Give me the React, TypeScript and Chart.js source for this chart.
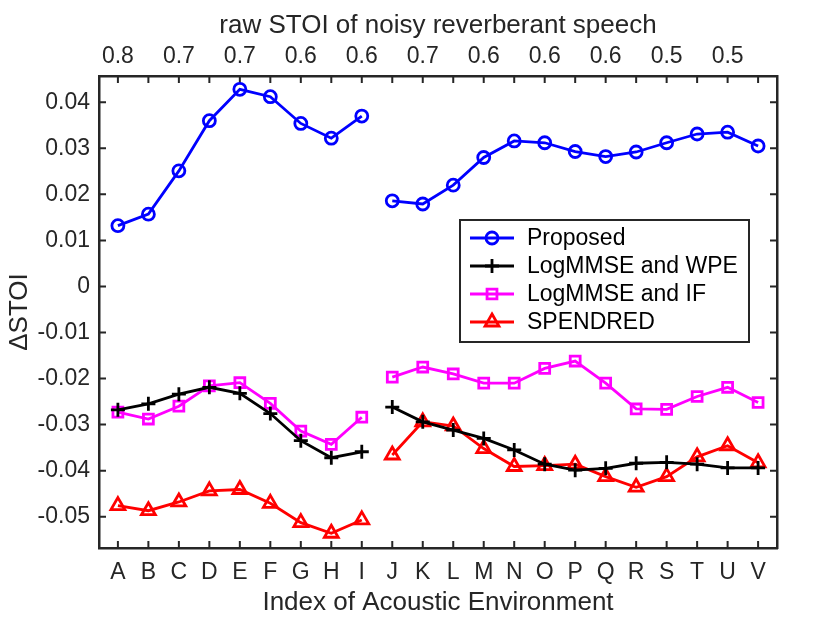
import React, { useEffect, useRef } from "react";
import { Chart, registerables, Plugin } from "chart.js";
import { drawPoint } from "chart.js/helpers";

Chart.register(...registerables);

const categories = ["A", "B", "C", "D", "E", "F", "G", "H", "I", "J", "K", "L", "M", "N", "O", "P", "Q", "R", "S", "T", "U", "V"];
// top axis labels sit on every other category (A, C, E, ...)
const topTickLabels = ["0.8", "0.7", "0.7", "0.6", "0.6", "0.7", "0.6", "0.6", "0.6", "0.5", "0.5"];
const yTickValues = [-0.05, -0.04, -0.03, -0.02, -0.01, 0, 0.01, 0.02, 0.03, 0.04];

const proposed = [0.0132, 0.0157, 0.0251, 0.036, 0.0428, 0.0412, 0.0354, 0.0322, 0.037, 0.0186, 0.0179, 0.022, 0.028, 0.0316, 0.0312, 0.0293, 0.0282, 0.0292, 0.0312, 0.0331, 0.0335, 0.0305];
const logmmseWpe = [-0.0268, -0.0255, -0.0234, -0.0219, -0.0232, -0.0276, -0.0335, -0.0372, -0.0359, -0.0262, -0.0294, -0.0312, -0.033, -0.0355, -0.0386, -0.0399, -0.0395, -0.0384, -0.0382, -0.0386, -0.0394, -0.0394];
const logmmseIf = [-0.0273, -0.0288, -0.026, -0.0216, -0.0209, -0.0254, -0.0314, -0.0343, -0.0284, -0.0197, -0.0175, -0.019, -0.021, -0.021, -0.0178, -0.0162, -0.021, -0.0266, -0.0267, -0.0239, -0.0219, -0.0252];
const spendred = [-0.0476, -0.0487, -0.0468, -0.0444, -0.0441, -0.0471, -0.0513, -0.0536, -0.0507, -0.0366, -0.0294, -0.0303, -0.0352, -0.0391, -0.0389, -0.0386, -0.0413, -0.0436, -0.0413, -0.037, -0.0346, -0.0383];

// lines are broken between I and J
const gapAfter = 8;

const AXIS = "#262626";
const FONT = "'Liberation Sans', Arial, Helvetica, sans-serif";

const series = [
  { label: "Proposed", data: proposed, color: "#0000ff", style: "circle", radius: 6 },
  { label: "LogMMSE and WPE", data: logmmseWpe, color: "#000000", style: "cross", radius: 7 },
  { label: "LogMMSE and IF", data: logmmseIf, color: "#ff00ff", style: "rect", radius: 7 },
  { label: "SPENDRED", data: spendred, color: "#ff0000", style: "triangle", radius: 8 },
];

const innerTicks: Plugin<"line"> = {
  id: "innerTicks",
  beforeDatasetsDraw(chart) {
    const { ctx, chartArea: a, scales } = chart;
    const len = 7;
    ctx.save();
    ctx.strokeStyle = AXIS;
    ctx.lineWidth = 2;
    ctx.beginPath();
    scales.x.ticks.forEach((t) => {
      const px = scales.x.getPixelForValue(t.value);
      ctx.moveTo(px, a.bottom);
      ctx.lineTo(px, a.bottom - len);
    });
    scales.x2.ticks.forEach((t) => {
      const px = scales.x2.getPixelForValue(t.value);
      ctx.moveTo(px, a.top);
      ctx.lineTo(px, a.top + len);
    });
    scales.y.ticks.forEach((t) => {
      const py = scales.y.getPixelForValue(t.value);
      ctx.moveTo(a.left, py);
      ctx.lineTo(a.left + len, py);
    });
    scales.y2.ticks.forEach((t) => {
      const py = scales.y2.getPixelForValue(t.value);
      ctx.moveTo(a.right, py);
      ctx.lineTo(a.right - len, py);
    });
    ctx.stroke();
    ctx.restore();
  },
};

const boxLegend: Plugin<"line"> = {
  id: "boxLegend",
  afterDatasetsDraw(chart) {
    const { ctx, chartArea: a } = chart;
    const left = a.left + 361;
    const right = a.right - 28;
    const top = a.top + 144;
    const rowH = 28;
    const bottom = top + rowH * series.length + 10;
    ctx.save();
    ctx.fillStyle = "#ffffff";
    ctx.fillRect(left, top, right - left, bottom - top);
    ctx.strokeStyle = AXIS;
    ctx.lineWidth = 2;
    ctx.strokeRect(left, top, right - left, bottom - top);
    ctx.font = `23px ${FONT}`;
    ctx.textBaseline = "middle";
    ctx.textAlign = "left";
    series.forEach((s, i) => {
      const y = top + 18 + i * rowH;
      ctx.strokeStyle = s.color;
      ctx.lineWidth = 2.8;
      ctx.beginPath();
      ctx.moveTo(left + 10, y);
      ctx.lineTo(left + 54, y);
      ctx.stroke();
      ctx.fillStyle = "rgba(0,0,0,0)";
      drawPoint(ctx, { pointStyle: s.style as any, radius: s.radius, rotation: 0, borderWidth: 2.8 }, left + 32, y);
      ctx.fillStyle = "#000000";
      ctx.fillText(s.label, left + 67, y + 1);
    });
    ctx.restore();
  },
};

const xTicks = (scale: any) => {
  scale.ticks = categories.map((_, i) => ({ value: i }));
};
const yTicks = (scale: any) => {
  scale.ticks = yTickValues.map((v) => ({ value: v }));
};

const App: React.FC = () => {
  const canvasRef = useRef<HTMLCanvasElement | null>(null);
  const chartRef = useRef<Chart<"line"> | null>(null);

  useEffect(() => {
    document.body.style.margin = "0";
    const canvas = canvasRef.current;
    if (!canvas) return;
    const ctx = canvas.getContext("2d");
    if (!ctx) return;

    if (chartRef.current) chartRef.current.destroy();

    const xRange = { min: -0.62, max: 21.62 };
    const yRange = { min: -0.0568, max: 0.0457 };
    const border = { display: true, color: AXIS, width: 2.5 };

    chartRef.current = new Chart(ctx, {
      type: "line",
      data: {
        datasets: series.map((s) => ({
          label: s.label,
          data: s.data.map((v, i) => ({ x: i, y: v })),
          borderColor: s.color,
          borderWidth: 2.8,
          pointStyle: s.style as any,
          pointRadius: s.radius,
          pointBorderColor: s.color,
          pointBackgroundColor: "rgba(0,0,0,0)",
          pointBorderWidth: 2.8,
          tension: 0,
          segment: {
            borderColor: (c: any) => (c.p0DataIndex === gapAfter ? "rgba(0,0,0,0)" : s.color),
          },
        })),
      },
      options: {
        animation: false,
        responsive: false,
        devicePixelRatio: 1,
        layout: { padding: 0 },
        plugins: {
          legend: { display: false },
          tooltip: { enabled: false },
        },
        scales: {
          x: {
            type: "linear",
            position: "bottom",
            ...xRange,
            grid: { display: false, drawTicks: false },
            border,
            afterBuildTicks: xTicks,
            afterFit: (s: any) => {
              s.height = 75;
            },
            ticks: {
              autoSkip: false,
              maxRotation: 0,
              padding: 11,
              color: AXIS,
              font: { family: FONT, size: 23 },
              callback: (v: any) => categories[v as number] ?? "",
            },
            title: {
              display: true,
              text: "Index of Acoustic Environment",
              color: AXIS,
              font: { family: FONT, size: 26 },
              padding: { top: 0, bottom: 5 },
            },
          },
          x2: {
            type: "linear",
            position: "top",
            ...xRange,
            grid: { display: false, drawTicks: false },
            border,
            afterBuildTicks: xTicks,
            afterFit: (s: any) => {
              s.height = 76;
            },
            ticks: {
              autoSkip: false,
              maxRotation: 0,
              padding: 6,
              color: AXIS,
              font: { family: FONT, size: 23 },
              callback: (v: any) => ((v as number) % 2 === 0 ? topTickLabels[(v as number) / 2] ?? "" : ""),
            },
            title: {
              display: true,
              text: "raw STOI of noisy reverberant speech",
              color: AXIS,
              font: { family: FONT, size: 26 },
              padding: { top: 10, bottom: 0 },
            },
          },
          y: {
            type: "linear",
            position: "left",
            ...yRange,
            grid: { display: false, drawTicks: false },
            border,
            afterBuildTicks: yTicks,
            afterFit: (s: any) => {
              s.width = 99;
            },
            ticks: {
              padding: 9,
              color: AXIS,
              font: { family: FONT, size: 23 },
              callback: (v: any) => ((v as number) === 0 ? "0" : (v as number).toFixed(2)),
            },
            title: {
              display: true,
              text: "ΔSTOI",
              color: AXIS,
              font: { family: FONT, size: 26 },
              padding: { top: 4, bottom: 0 },
            },
          },
          y2: {
            type: "linear",
            position: "right",
            ...yRange,
            grid: { display: false, drawTicks: false },
            border,
            afterBuildTicks: yTicks,
            afterFit: (s: any) => {
              s.width = 53;
            },
            ticks: { display: false },
          },
        },
      },
      plugins: [innerTicks, boxLegend],
    });

    return () => {
      if (chartRef.current) {
        chartRef.current.destroy();
        chartRef.current = null;
      }
    };
  }, []);

  return (
    <div style={{ width: 830, height: 623, background: "#ffffff" }}>
      <canvas ref={canvasRef} width={830} height={623} style={{ display: "block" }} />
    </div>
  );
};

export default App;
